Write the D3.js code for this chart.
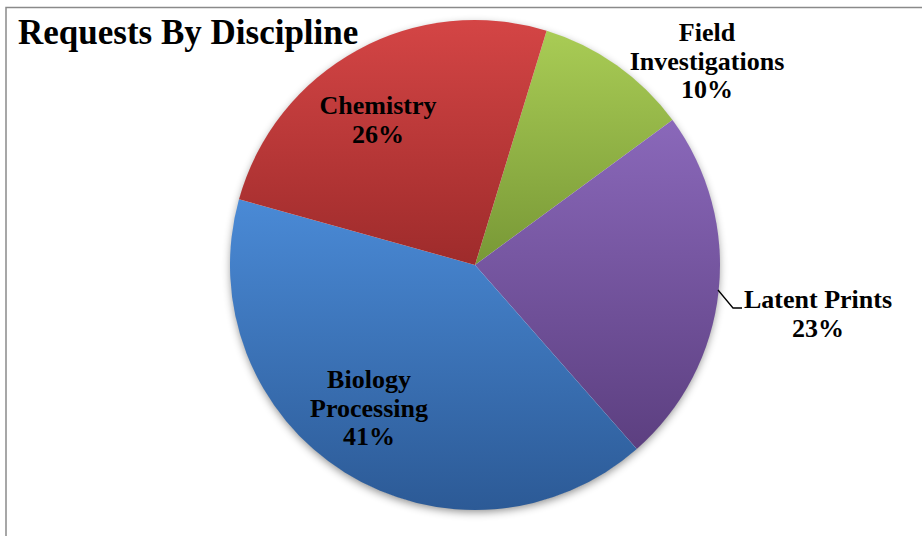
<!DOCTYPE html>
<html><head><meta charset="utf-8">
<script src="https://cdn.jsdelivr.net/npm/d3@7"></script>
<style>body{margin:0;background:#fff;}svg{display:block;}</style>
</head><body>
<svg id="c" width="923" height="536"></svg>
<script>
const categories = ["Field Investigations", "Latent Prints", "Biology Processing", "Chemistry"];
const labelLines = [["Field", "Investigations"], ["Latent Prints"], ["Biology", "Processing"], ["Chemistry"]];
const values = [10.2, 23.6, 40.8, 25.4];
const pctLabels = ["10%", "23%", "41%", "26%"];
const colorsTop = ["#a9cc55", "#8a68ba", "#4a8ad6", "#d44545"];
const colorsBot = ["#789836", "#5c3f80", "#2c5a96", "#9e2b2b"];

const svg = d3.select("#c");
const W = 923, H = 536;
const cx = 475, cy = 265, R = 245;
const FONT = "'Liberation Serif', serif";

// frame
svg.append("path").attr("d", `M6,${H} V7.5 H922`).attr("fill","none").attr("stroke","#8a8a8a").attr("stroke-width",1.5);

const defs = svg.append("defs");
const f = defs.append("filter").attr("id","sh").attr("x","-20%").attr("y","-20%").attr("width","140%").attr("height","140%");
f.append("feDropShadow").attr("dx",0).attr("dy",3).attr("stdDeviation",4).attr("flood-color","#000").attr("flood-opacity",0.45);
categories.forEach((c,i)=>{
  const g = defs.append("linearGradient").attr("id","g"+i).attr("x1",0).attr("y1",0).attr("x2",0).attr("y2",1);
  g.append("stop").attr("offset","0%").attr("stop-color",colorsTop[i]);
  g.append("stop").attr("offset","100%").attr("stop-color",colorsBot[i]);
});

const startA = 17 * Math.PI / 180;
const pie = d3.pie().sort(null).value(d=>d).startAngle(startA).endAngle(startA + 2*Math.PI);
const arcs = pie(values);
const arc = d3.arc().innerRadius(0).outerRadius(R);

const gp = svg.append("g").attr("transform",`translate(${cx},${cy})`);
gp.append("circle").attr("r",R-1).attr("fill","#fff").attr("filter","url(#sh)");
gp.selectAll("path.s").data(arcs).join("path").attr("class","s")
  .attr("d",arc).attr("fill",(d,i)=>`url(#g${i})`).attr("stroke","none");

const labelPos = [
  {x: 707, y: 41},
  {x: 818, y: 308},
  {x: 369, y: 388},
  {x: 378, y: 114}
];
const lh = 28.5;
const lt = svg.append("g").attr("font-family",FONT).attr("font-weight","bold").attr("font-size",26).attr("fill","#000");
arcs.forEach((d,i)=>{
  const p = labelPos[i];
  const lines = labelLines[i].concat([pctLabels[i]]);
  lines.forEach((ln,k)=>{
    lt.append("text").attr("x",p.x).attr("y",p.y + k*lh).attr("text-anchor","middle").text(ln);
  });
});
// leader line for Latent Prints
svg.append("path").attr("d","M718,290 L733,308 L742,308").attr("fill","none").attr("stroke","#000").attr("stroke-width",1.3);

svg.append("text").attr("x",18).attr("y",44).attr("font-family",FONT).attr("font-weight","bold").attr("font-size",35).text("Requests By Discipline");
</script>
</body></html>
